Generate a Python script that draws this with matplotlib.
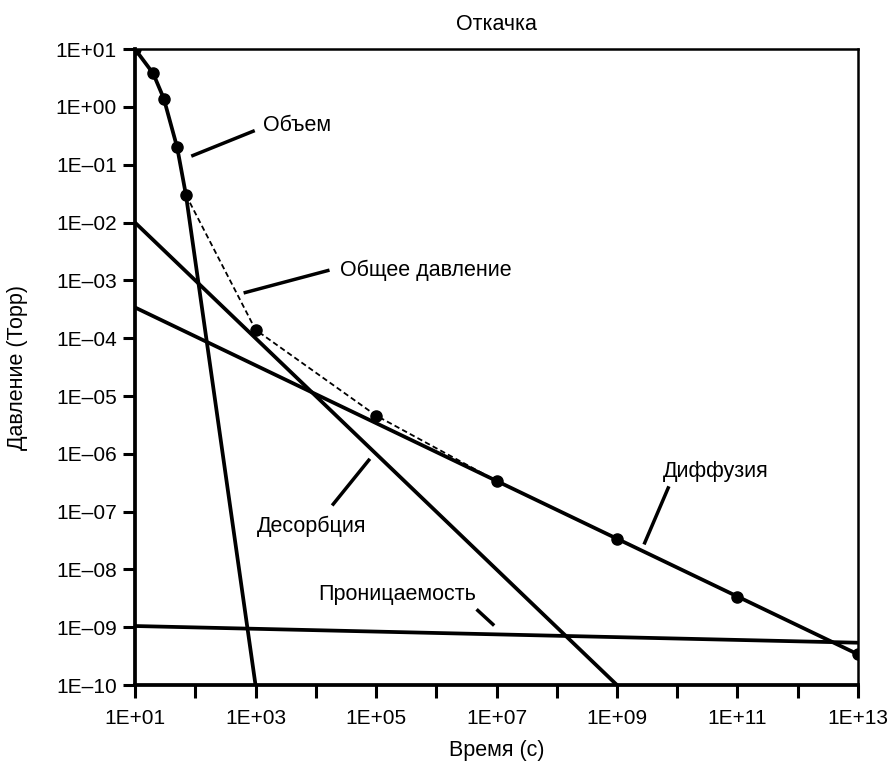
import numpy as np
import matplotlib
matplotlib.use("Agg")
import matplotlib.pyplot as plt

plt.rcParams['font.family'] = ['Liberation Sans', 'DejaVu Sans']

# данные (время в с, давление в Торр)
vol_t = [10, 20, 30, 50, 70, 1000]
vol_p = [10, 3.8, 1.4, 0.2, 0.03, 1e-10]
vol_dots = 5

des_t = [10, 1e9]
des_p = [1e-2, 1e-10]

dif_t = [10, 1e7, 1e9, 1e11, 1e13]
dif_p = [3.4e-4, 3.4e-7, 3.4e-8, 3.4e-9, 3.4e-10]

perm_t = [10, 1e13]
perm_p = [1.05e-9, 5.4e-10]

tot_t = [70, 1e3, 1e5, 1e7]
tot_p = [0.03, 1.4e-4, 4.6e-6, 3.4e-7]

xticks = [10.0 ** k for k in range(1, 14)]
yticks = [10.0 ** k for k in range(-10, 2)]


def fmt(v):
    e = int(round(np.log10(v)))
    s = "+" if e >= 0 else "\u2013"
    return "1E%s%02d" % (s, abs(e))


# подписи: (текст, позиция текста, линия-выноска) в log10-координатах
labels = [
    ("Объем", (3.12, -0.32), ((1.96, -0.84), (2.96, -0.42))),
    ("Общее давление", (4.40, -2.83), ((2.83, -3.21), (4.20, -2.83))),
    ("Десорбция", (3.02, -7.25), ((4.29, -6.87), (4.88, -6.11))),
    ("Проницаемость", (4.04, -8.43), ((6.69, -8.71), (6.94, -8.95))),
    ("Диффузия", (9.76, -6.30), ((9.85, -6.59), (9.46, -7.54))),
]

fig = plt.figure(figsize=(8.89, 7.68), dpi=100)
ax = fig.add_axes([0.1519, 0.108, 0.8132, 0.828])
ax.set_xscale("log")
ax.set_yscale("log")

lw = 2.7
ax.plot(vol_t, vol_p, color="black", lw=lw, solid_capstyle="butt")
ax.plot(vol_t[:vol_dots], vol_p[:vol_dots], "o", color="black", ms=8)
ax.plot(des_t, des_p, color="black", lw=lw)
ax.plot(dif_t, dif_p, color="black", lw=lw)
ax.plot(dif_t[1:], dif_p[1:], "o", color="black", ms=8)
ax.plot(perm_t, perm_p, color="black", lw=lw)
ax.plot(tot_t, tot_p, color="black", lw=1.3, ls=(0, (3, 1.8)))
ax.plot(tot_t[1:3], tot_p[1:3], "o", color="black", ms=8)

for txt, (tx, ty), ((x1, y1), (x2, y2)) in labels:
    ax.plot([10 ** x1, 10 ** x2], [10 ** y1, 10 ** y2], color="black", lw=2.5)
    ax.text(10 ** tx, 10 ** ty, txt, fontsize=15.5, ha="left", va="center")

ax.set_xlim(10, 1e13)
ax.set_ylim(1e-10, 10)
ax.set_xticks(xticks)
ax.set_xticklabels([fmt(v) if i % 2 == 0 else "" for i, v in enumerate(xticks)])
ax.set_yticks(yticks)
ax.set_yticklabels([fmt(v) for v in yticks])
ax.minorticks_off()
ax.tick_params(direction="out", length=9, width=2.2, labelsize=15)
ax.tick_params(axis="x", pad=8)
ax.tick_params(axis="y", pad=4)

ax.spines["left"].set_linewidth(2.7)
ax.spines["bottom"].set_linewidth(2.7)
ax.spines["top"].set_linewidth(1.8)
ax.spines["right"].set_linewidth(1.8)

ax.set_title("Откачка", fontsize=15.5, pad=14)
ax.set_xlabel("Время (с)", fontsize=15.5, labelpad=9)
ax.set_ylabel("Давление (Торр)", fontsize=15.5, labelpad=20)

fig.savefig("out.png", dpi=100)
